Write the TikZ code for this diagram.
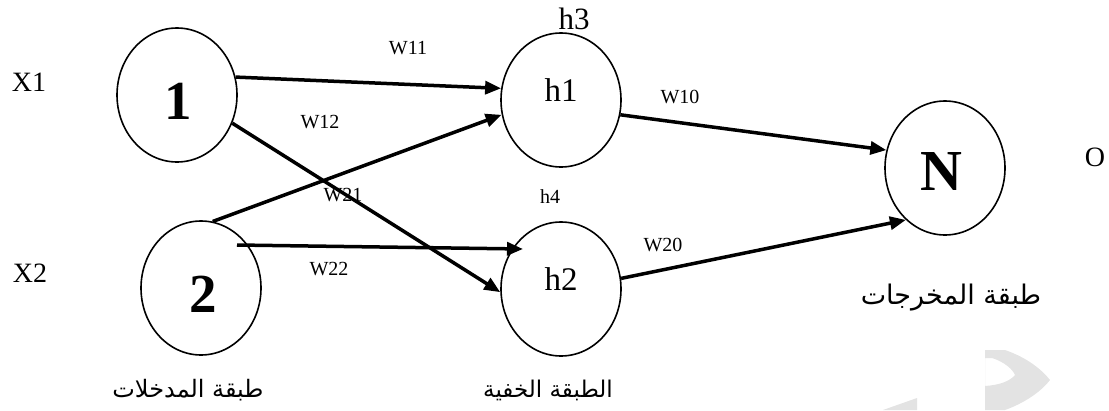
\documentclass[tikz,border=0pt]{standalone}
\usepackage{fontspec}
\setmainfont{Liberation Serif}
\newfontfamily\arabicfont[Script=Arabic]{DejaVu Sans}
\TeXXeTstate=1
\usetikzlibrary{shapes.geometric,arrows.meta,calc}

\begin{document}
\begin{tikzpicture}[x=1pt,y=-1pt,
  neuron/.style={draw,ellipse,line width=1.6pt,minimum width=120pt,minimum height=134pt,inner sep=0pt},
  wire/.style={line width=3.5pt,-{Triangle[length=16pt,width=13pt]}},
  wlabel/.style={font=\fontsize{20}{20}\selectfont,inner sep=0pt},
  side/.style={font=\fontsize{28}{28}\selectfont,inner sep=0pt},
  hname/.style={font=\fontsize{33}{33}\selectfont,inner sep=0pt},
  big/.style={font=\fontsize{55}{55}\selectfont\bfseries,inner sep=0pt},
  layer/.style={font=\arabicfont\fontsize{24}{24}\selectfont,inner sep=0pt}
]
\path[use as bounding box] (0,0) rectangle (1109,410);

% faint watermark in the lower right corner
\fill[gray!22,even odd rule]
  (985,350) -- (1005,350) .. controls (1028,358) and (1042,370) .. (1050,380)
  .. controls (1040,393) and (1022,404) .. (1005,410) -- (985,410) -- cycle
  (985,358) -- (992,358) .. controls (1005,362) and (1013,370) .. (1015,375)
  .. controls (1010,381) and (1000,385) .. (985,386) -- cycle;
\fill[gray!22] (883,410) -- (917,398) -- (917,410) -- cycle;

% neurons
\node[neuron] (n1) at (177,95) {};
\node[neuron] (n2) at (201,288) {};
\node[neuron] (h1) at (561,100) {};
\node[neuron] (h2) at (561,289) {};
\node[neuron] (nn) at (945,168) {};

% neuron names
\node[big] (t1) at (178,101) {1};
\node[big] (t2) at (203,294) {2};
\node[hname] (th1) at (561,90) {h1};
\node[hname] (th2) at (561,279) {h2};
\node[big,font=\fontsize{58}{58}\selectfont\bfseries] (tn) at (941,172) {N};

% inputs, output and extra names
\node[side] (x1) at (29,82) {X1};
\node[side] (x2) at (30,273) {X2};
\node[side] (o) at (1095,157) {O};
\node[hname,font=\fontsize{31}{31}\selectfont] (h3) at (574,19) {h3};
\node[wlabel] (h4) at (550,197) {h4};

% connections
\draw[wire] (n1.17) -- (h1.169);
\draw[wire] (n2.80) -- (h1.194);
\draw[wire] (n1.-27) -- (h2.183);
\draw[wire] ($(n2.center)+(36,-43)$) -- ($(h2.center)+(-38,-40)$);
\draw[wire] (h1.-14) -- (nn.163);
\draw[wire] (h2.10) -- (nn.233);

% weights
\node[wlabel] (w11) at (408,48) {W11};
\node[wlabel] (w12) at (320,122) {W12};
\node[wlabel] (w21) at (343,195) {W21};
\node[wlabel] (w22) at (329,269) {W22};
\node[wlabel] (w10) at (680,97) {W10};
\node[wlabel] (w20) at (663,245) {W20};

% layer captions
\node[layer] (lin) at (188,390) {\beginR طبقة المدخلات\endR};
\node[layer,font=\arabicfont\fontsize{23}{23}\selectfont] (lhid) at (548,390) {\beginR الطبقة الخفية\endR};
\node[layer,font=\arabicfont\fontsize{27}{27}\selectfont] (lout) at (951,298) {\beginR طبقة المخرجات\endR};
\end{tikzpicture}
\end{document}
